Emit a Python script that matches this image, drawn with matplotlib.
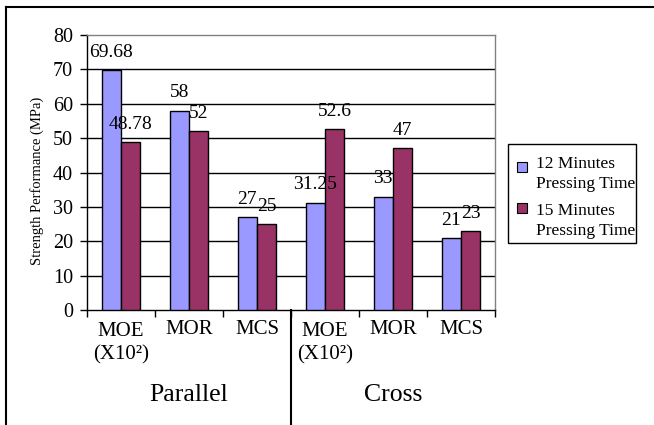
import matplotlib
matplotlib.use("Agg")
import matplotlib.pyplot as plt
import matplotlib.transforms as mtransforms
from matplotlib.patches import Rectangle
from matplotlib.lines import Line2D

# ---- data ----
categories = ["MOE\n(X10²)", "MOR", "MCS", "MOE\n(X10²)", "MOR", "MCS"]
groups = ["Parallel", "Cross"]
series_names = ["12 Minutes\nPressing Time", "15 Minutes\nPressing Time"]
vals_12 = [69.68, 58, 27, 31.25, 33, 21]
vals_15 = [48.78, 52, 25, 52.6, 47, 23]
yticks = [0, 10, 20, 30, 40, 50, 60, 70, 80]
colors = ["#9999FF", "#993366"]

plt.rcParams['font.family'] = ['Liberation Serif', 'DejaVu Serif']

W, H = 654, 425
fig = plt.figure(figsize=(W / 100, H / 100), dpi=100)

def fx(px):
    return px / W

def fy(py):
    return 1 - py / H

L, R, T, B = 87, 495, 35, 310
ax = fig.add_axes([fx(L), fy(B), fx(R) - fx(L), fy(T) - fy(B)])

n = len(categories)
x = list(range(n))
bw = 0.285
ax.bar([i - bw / 2 for i in x], vals_12, width=bw, color=colors[0],
       edgecolor="black", linewidth=1.0, zorder=3)
ax.bar([i + bw / 2 for i in x], vals_15, width=bw, color=colors[1],
       edgecolor="black", linewidth=1.0, zorder=3)

for i in x:
    ax.annotate(f"{vals_12[i]:g}", (i - bw / 2, vals_12[i]), xytext=(0, 9.5),
                textcoords="offset points", ha="center", va="baseline",
                fontsize=14, zorder=5)
    ax.annotate(f"{vals_15[i]:g}", (i + bw / 2, vals_15[i]), xytext=(0, 9.5),
                textcoords="offset points", ha="center", va="baseline",
                fontsize=14, zorder=5)

ax.set_xlim(-0.5, n - 0.5)
ax.set_ylim(0, 80)
ax.set_yticks(yticks)
ax.tick_params(axis="y", labelsize=14.5, length=5, width=1, direction="out", pad=5)
ax.set_xticks([i - 0.5 for i in range(n + 1)])
ax.set_xticklabels([])
ax.tick_params(axis="x", length=5, width=1, direction="out")

for yv in yticks[1:-1]:
    ax.axhline(yv, color="black", linewidth=1.0, zorder=1)

ax.spines["top"].set_color("#808080")
ax.spines["right"].set_color("#808080")
ax.spines["left"].set_color("black")
ax.spines["bottom"].set_color("black")
for s in ax.spines.values():
    s.set_linewidth(1.0)

# category labels
trans = mtransforms.blended_transform_factory(ax.transData, fig.transFigure)
for i, c in enumerate(categories):
    top = 322 if "\n" in c else 320
    ax.text(i, fy(top), c, transform=trans, ha="center", va="top",
            fontsize=15, linespacing=1.3)

# group labels
for gi, g in enumerate(groups):
    ax.text(1 + 3 * gi, fy(395), g, transform=trans, ha="center",
            va="center", fontsize=18.5)

# divider between groups
ax.add_line(Line2D([2.5, 2.5], [fy(B), 0], transform=trans, color="black",
                   linewidth=1.5, clip_on=False))

# y label
fig.text(fx(37), fy(181), "Strength Performance (MPa)", rotation=90,
         ha="center", va="center", fontsize=10.5)

# legend (manual, first-line aligned markers)
fig.patches.append(Rectangle((fx(508), fy(243)), fx(636) - fx(508),
                             fy(144) - fy(243), transform=fig.transFigure,
                             facecolor="white", edgecolor="black",
                             linewidth=1.0))
for k, (name, col) in enumerate(zip(series_names, colors)):
    mtop = 162 + k * 41
    fig.patches.append(Rectangle((fx(517), fy(mtop + 10)), fx(10),
                                 10 / H, transform=fig.transFigure,
                                 facecolor=col, edgecolor="black",
                                 linewidth=0.8))
    fig.text(fx(536), fy(156 + k * 47), name, ha="left", va="top",
             fontsize=12.5, linespacing=1.35)

# outer border (top and left)
fig.lines.append(Line2D([fx(6), 1], [fy(7), fy(7)], transform=fig.transFigure,
                        color="black", linewidth=1.5))
fig.lines.append(Line2D([fx(6), fx(6)], [fy(7), 0], transform=fig.transFigure,
                        color="black", linewidth=1.5))

fig.savefig("out.png", dpi=100)
